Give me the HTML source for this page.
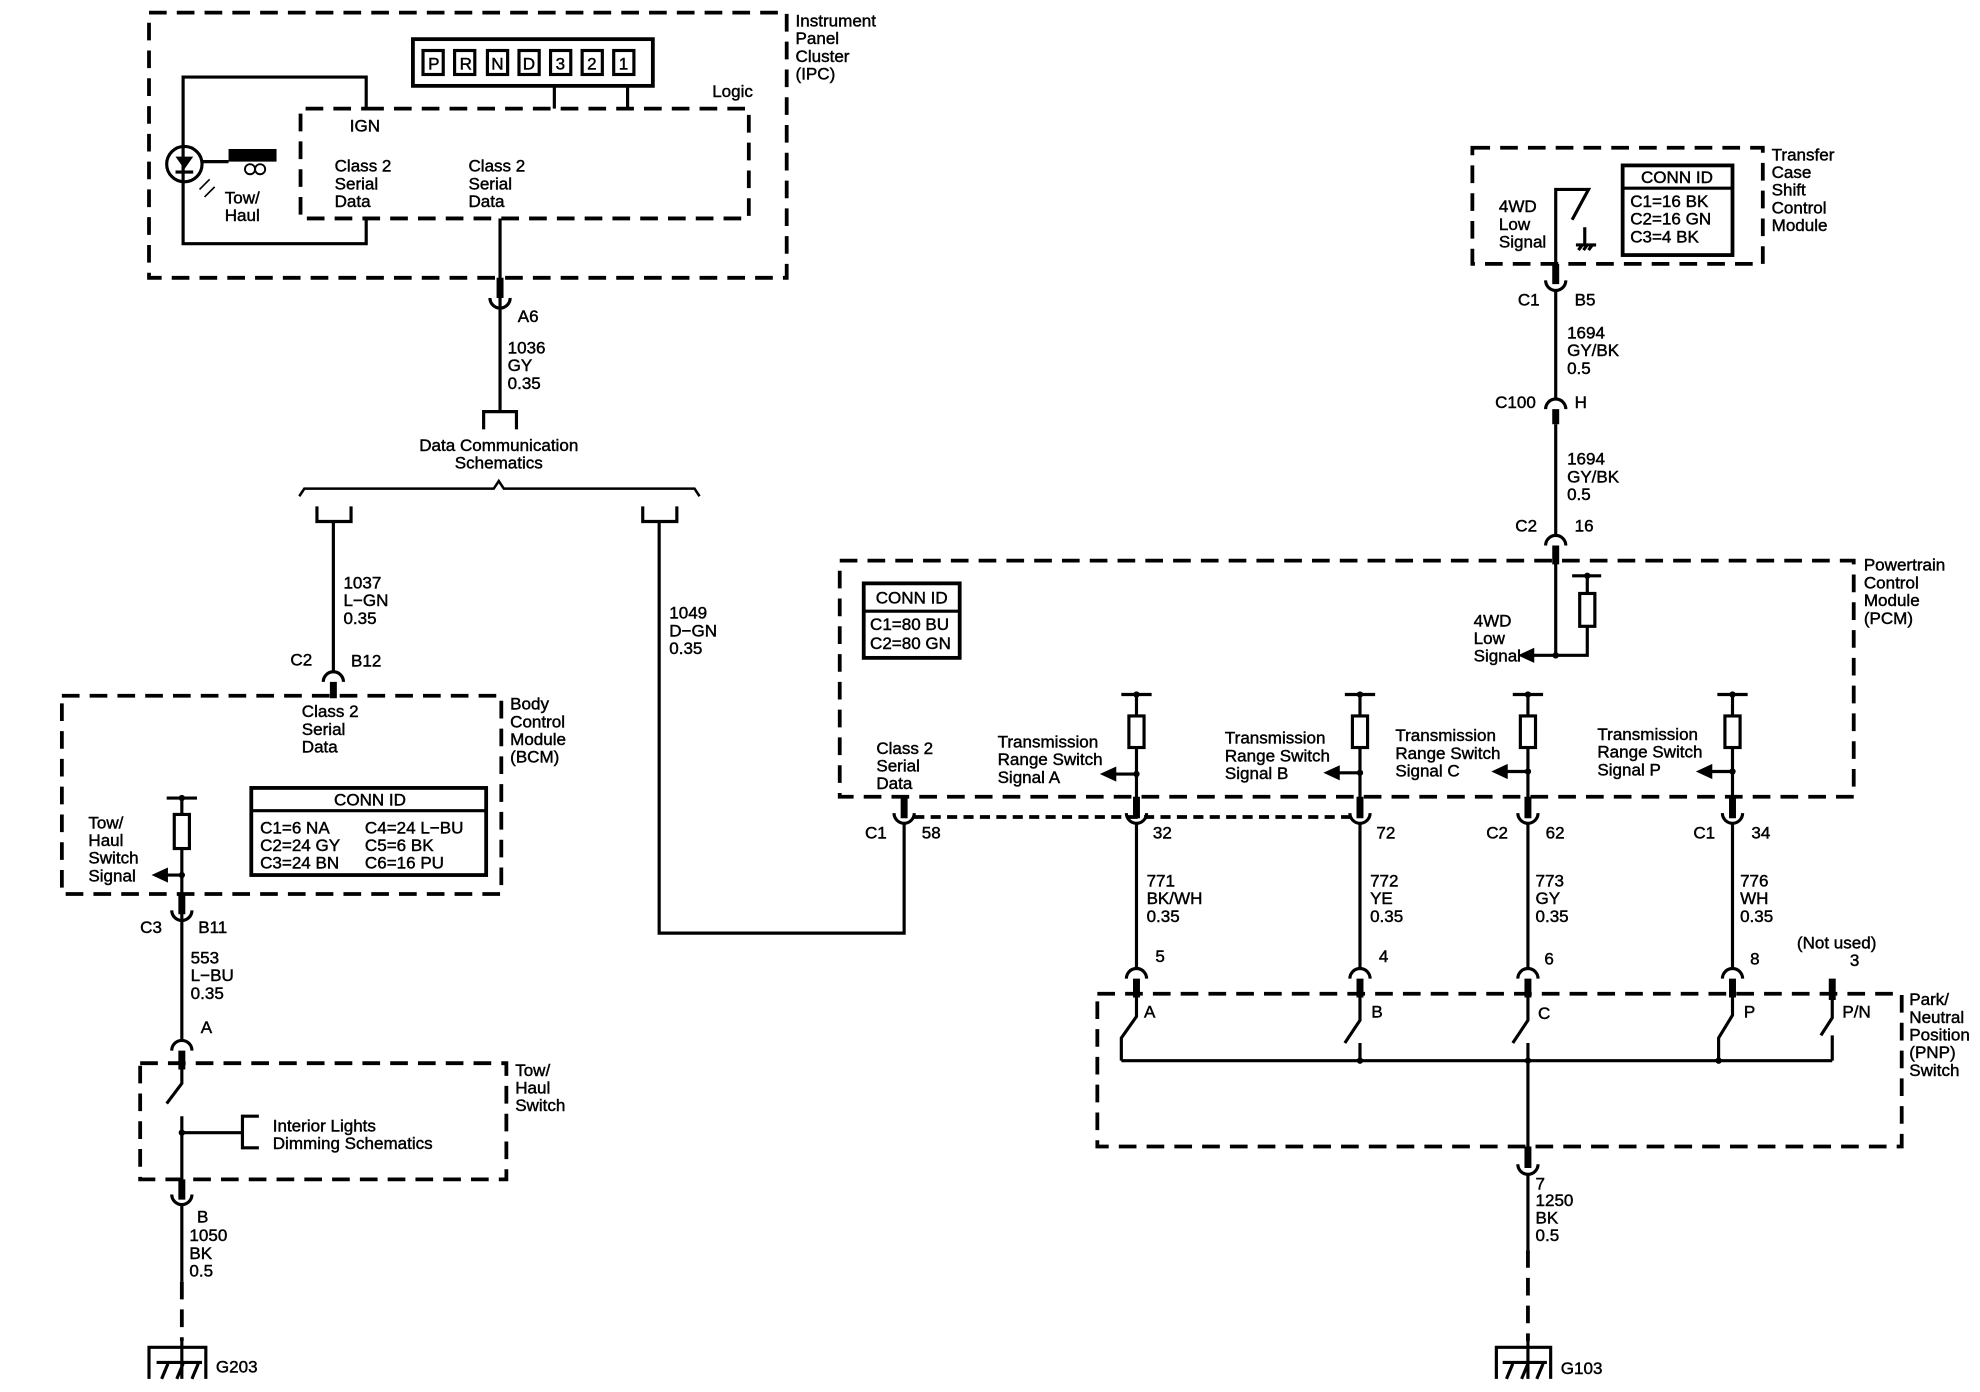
<!DOCTYPE html>
<html><head><meta charset="utf-8"><style>
html,body{margin:0;padding:0;background:#fff;}
svg{display:block;}
text{font-family:"Liberation Sans",Arial,sans-serif;font-size:13.5px;fill:#000;stroke:#000;stroke-width:0.35px;}
</style></head><body>
<svg width="1980" height="1392" viewBox="0 0 1568 1102.4" preserveAspectRatio="none" xmlns="http://www.w3.org/2000/svg">
<g fill="none" stroke="#000" stroke-width="3" stroke-dasharray="14 8">
<rect x="118" y="10" width="505" height="210"/>
<path d="M290 86 H593 V173 H238 V86 H290"/>
<rect x="49" y="551" width="348" height="157"/>
<rect x="111" y="842" width="290" height="92"/>
<rect x="1166" y="117" width="230" height="92"/>
<rect x="665" y="444" width="803" height="187"/>
<rect x="869" y="787" width="637" height="121"/>
<path d="M144 1015 V1062"/>
<path d="M1210 990 V1062"/>
</g>
<path d="M724 647 H1070" stroke="#000" stroke-width="3" stroke-dasharray="8 5" fill="none"/>
<g fill="none" stroke="#000" stroke-width="2.5">
<rect x="327" y="31" width="190" height="37" stroke-width="3"/>
<rect x="335" y="40" width="16" height="19"/><rect x="360" y="40" width="16" height="19"/>
<rect x="386" y="40" width="16" height="19"/><rect x="411" y="40" width="16" height="19"/>
<rect x="436" y="40" width="16" height="19"/><rect x="461" y="40" width="16" height="19"/>
<rect x="486" y="40" width="16" height="19"/>
<path d="M439 68 V86 M497 68 V86"/>
<path d="M290 86 V61 H145 V193 H290 V173"/>
<circle cx="146" cy="130" r="14"/>
<path d="M160 128 H181"/>
<circle cx="198" cy="134" r="4" stroke-width="1.5"/><circle cx="206" cy="134" r="4" stroke-width="1.5"/>
<path d="M158 150 L166 142 M162 156 L170 148" stroke-width="1.3"/>
<path d="M396 173 V243 M396 243 V326 M383 340 V326 H409 V340"/>
<path d="M237 393 L241 387 H391 L395 381 L399 387 H550 L554 393" stroke-width="2"/>
<path d="M251 401 V413 H278 V401 M509 401 V413 H536 V401"/>
<path d="M264 413 V533 M522 413 V739 H716 V652"/>
<rect x="199" y="624" width="186" height="69" stroke-width="3"/>
<path d="M199 642 H385"/>
<path d="M132 632 H156 M144 632 V645 M144 672 V708 M144 693 H130"/>
<rect x="138" y="645" width="12" height="27"/>
<path d="M144 720 V823 M144 845 V858 L132 874 M144 884 V946 M144 897 H192 M205 884 H192 V909 H205"/>
<path d="M144 953 V1015"/>
<path d="M144 1060 V1092 M118 1092 V1067 H163 V1092 M124 1079 H160 M128 1092 L133 1080 M140 1092 L145 1080 M152 1092 L157 1080"/>
<rect x="1285" y="131" width="87" height="71" stroke-width="3"/>
<path d="M1285 149 H1372"/>
<path d="M1232 209 V150 H1258 L1245 174 M1255 180 V194 M1248 194 H1264 M1250 198 L1253 194 M1254 198 L1257 194 M1258 198 L1261 194"/>
<path d="M1232 229 V316 M1232 336 V424"/>
<rect x="684" y="462" width="76" height="59" stroke-width="3"/>
<path d="M684 484 H760"/>
<path d="M1232 445 V519 H1257 V496 M1257 470 V456 M1245 456 H1268 M1232 519 H1212"/>
<rect x="1251" y="470" width="12" height="26"/>
<path d="M888 550 H912 M900 550 V567 M900 592 V643 M900 613 H880"/>
<rect x="894" y="567" width="12" height="25"/>
<path d="M1065 550 H1089 M1077 550 V567 M1077 592 V643 M1077 612 H1057"/>
<rect x="1071" y="567" width="12" height="25"/>
<path d="M1198 550 H1222 M1210 550 V567 M1210 592 V643 M1210 611 H1190"/>
<rect x="1204" y="567" width="12" height="25"/>
<path d="M1360 550 H1384 M1372 550 V567 M1372 592 V643 M1372 611 H1352"/>
<rect x="1366" y="567" width="12" height="25"/>
<path d="M900 652 V768 M1077 652 V768 M1210 652 V768 M1372 652 V768"/>
<path d="M900 788 V805 L888 822 V840 M1077 788 V808 L1065 826 M1077 826 V840 M1210 788 V808 L1198 826 M1210 826 V840 M1372 788 V804 L1361 822 V840 M1451 790 V806 L1442 820 M1451 820 V840 M888 840 H1451"/>
<path d="M1210 840 V908 M1210 930 V990"/>
<path d="M1210 1060 V1092 M1185 1092 V1067 H1228 V1092 M1190 1079 H1225 M1193 1092 L1198 1080 M1205 1092 L1210 1080 M1217 1092 L1222 1080"/>
</g>
<g stroke="#000" stroke-width="5.5" fill="none">
<path d="M396 220 V236 M264 540 V553 M144 708 V724 M144 832 V847 M144 934 V950 M1232 209 V225 M1232 324 V336 M1232 432 V447 M716 631 V648 M900 631 V648 M1077 631 V648 M1210 631 V648 M1372 631 V648 M900 775 V790 M1077 775 V790 M1210 775 V790 M1372 775 V790 M1451 775 V792 M1210 908 V925"/>
</g>
<g stroke="#000" stroke-width="2.5" fill="none">
<path d="M388 236 a8 8 0 0 0 16 0"/>
<path d="M256 540 a8 8 0 0 1 16 0"/>
<path d="M136 721 a8 8 0 0 0 16 0"/>
<path d="M136 832 a8 8 0 0 1 16 0"/>
<path d="M136 946 a8 8 0 0 0 16 0"/>
<path d="M1224 222 a8 8 0 0 0 16 0"/>
<path d="M1224 324 a8 8 0 0 1 16 0"/>
<path d="M1224 432 a8 8 0 0 1 16 0"/>
<path d="M708 644 a8 8 0 0 0 16 0"/>
<path d="M892 644 a8 8 0 0 0 16 0"/>
<path d="M1069 644 a8 8 0 0 0 16 0"/>
<path d="M1202 644 a8 8 0 0 0 16 0"/>
<path d="M1364 644 a8 8 0 0 0 16 0"/>
<path d="M892 775 a8 8 0 0 1 16 0"/>
<path d="M1069 775 a8 8 0 0 1 16 0"/>
<path d="M1202 775 a8 8 0 0 1 16 0"/>
<path d="M1364 775 a8 8 0 0 1 16 0"/>
<path d="M1202 922 a8 8 0 0 0 16 0"/>
</g>
<g fill="#000">
<rect x="181" y="118" width="38" height="10"/>
<path d="M139 124 H153 L146 134 Z"/><rect x="139" y="135" width="14" height="2.5"/>
<circle cx="144" cy="632" r="2.5"/><circle cx="144" cy="693" r="2.5"/><circle cx="144" cy="897" r="2.5"/>
<path d="M120 693 L133 687 V699 Z"/>
<circle cx="1232" cy="519" r="2.5"/><circle cx="1257" cy="456" r="2.5"/>
<path d="M1202 519 L1215 513 V525 Z"/>
<circle cx="900" cy="550" r="2.5"/><circle cx="900" cy="613" r="2.5"/><path d="M871 613 L884 607 V619 Z"/>
<circle cx="1077" cy="550" r="2.5"/><circle cx="1077" cy="612" r="2.5"/><path d="M1048 612 L1061 606 V618 Z"/>
<circle cx="1210" cy="550" r="2.5"/><circle cx="1210" cy="611" r="2.5"/><path d="M1181 611 L1194 605 V617 Z"/>
<circle cx="1372" cy="550" r="2.5"/><circle cx="1372" cy="611" r="2.5"/><path d="M1343 611 L1356 605 V617 Z"/>
<circle cx="1077" cy="840" r="2.5"/><circle cx="1210" cy="840" r="2.5"/><circle cx="1361" cy="840" r="2.5"/>
</g>
<g>
<text x="630" y="21">Instrument</text><text x="630" y="35">Panel</text><text x="630" y="49">Cluster</text><text x="630" y="63">(IPC)</text>
<text x="339" y="55">P</text><text x="364" y="55">R</text><text x="389" y="55">N</text><text x="414" y="55">D</text><text x="440" y="55">3</text><text x="465" y="55">2</text><text x="490" y="55">1</text>
<text x="564" y="77">Logic</text>
<text x="277" y="104">IGN</text>
<text x="265" y="136">Class 2</text><text x="265" y="150">Serial</text><text x="265" y="164">Data</text>
<text x="371" y="136">Class 2</text><text x="371" y="150">Serial</text><text x="371" y="164">Data</text>
<text x="178" y="161">Tow/</text><text x="178" y="175">Haul</text>
<text x="410" y="255">A6</text>
<text x="402" y="280">1036</text><text x="402" y="294">GY</text><text x="402" y="308">0.35</text>
<text x="395" y="357" text-anchor="middle">Data Communication</text><text x="395" y="371" text-anchor="middle">Schematics</text>
<text x="272" y="466">1037</text><text x="272" y="480">L−GN</text><text x="272" y="494">0.35</text>
<text x="530" y="490">1049</text><text x="530" y="504">D−GN</text><text x="530" y="518">0.35</text>
<text x="230" y="527">C2</text><text x="278" y="528">B12</text>
<text x="239" y="568">Class 2</text><text x="239" y="582">Serial</text><text x="239" y="596">Data</text>
<text x="404" y="562">Body</text><text x="404" y="576">Control</text><text x="404" y="590">Module</text><text x="404" y="604">(BCM)</text>
<text x="293" y="638" text-anchor="middle">CONN ID</text>
<text x="206" y="660">C1=6 NA</text><text x="206" y="674">C2=24 GY</text><text x="206" y="688">C3=24 BN</text>
<text x="289" y="660">C4=24 L−BU</text><text x="289" y="674">C5=6 BK</text><text x="289" y="688">C6=16 PU</text>
<text x="70" y="656">Tow/</text><text x="70" y="670">Haul</text><text x="70" y="684">Switch</text><text x="70" y="698">Signal</text>
<text x="111" y="739">C3</text><text x="157" y="739">B11</text>
<text x="151" y="763">553</text><text x="151" y="777">L−BU</text><text x="151" y="791">0.35</text>
<text x="159" y="818">A</text>
<text x="408" y="852">Tow/</text><text x="408" y="866">Haul</text><text x="408" y="880">Switch</text>
<text x="216" y="896">Interior Lights</text><text x="216" y="910">Dimming Schematics</text>
<text x="156" y="968">B</text>
<text x="150" y="983">1050</text><text x="150" y="997">BK</text><text x="150" y="1011">0.5</text>
<text x="171" y="1087">G203</text>
<text x="1403" y="127">Transfer</text><text x="1403" y="141">Case</text><text x="1403" y="155">Shift</text><text x="1403" y="169">Control</text><text x="1403" y="183">Module</text>
<text x="1187" y="168">4WD</text><text x="1187" y="182">Low</text><text x="1187" y="196">Signal</text>
<text x="1328" y="145" text-anchor="middle">CONN ID</text>
<text x="1291" y="164">C1=16 BK</text><text x="1291" y="178">C2=16 GN</text><text x="1291" y="192">C3=4 BK</text>
<text x="1202" y="242">C1</text><text x="1247" y="242">B5</text>
<text x="1241" y="268">1694</text><text x="1241" y="282">GY/BK</text><text x="1241" y="296">0.5</text>
<text x="1184" y="323">C100</text><text x="1247" y="323">H</text>
<text x="1241" y="368">1694</text><text x="1241" y="382">GY/BK</text><text x="1241" y="396">0.5</text>
<text x="1200" y="421">C2</text><text x="1247" y="421">16</text>
<text x="1476" y="452">Powertrain</text><text x="1476" y="466">Control</text><text x="1476" y="480">Module</text><text x="1476" y="494">(PCM)</text>
<text x="722" y="478" text-anchor="middle">CONN ID</text>
<text x="689" y="499">C1=80 BU</text><text x="689" y="514">C2=80 GN</text>
<text x="1167" y="496">4WD</text><text x="1167" y="510">Low</text><text x="1167" y="524">Signal</text>
<text x="694" y="597">Class 2</text><text x="694" y="611">Serial</text><text x="694" y="625">Data</text>
<text x="790" y="592">Transmission</text><text x="790" y="606">Range Switch</text><text x="790" y="620">Signal A</text>
<text x="970" y="589">Transmission</text><text x="970" y="603">Range Switch</text><text x="970" y="617">Signal B</text>
<text x="1105" y="587">Transmission</text><text x="1105" y="601">Range Switch</text><text x="1105" y="615">Signal C</text>
<text x="1265" y="586">Transmission</text><text x="1265" y="600">Range Switch</text><text x="1265" y="614">Signal P</text>
<text x="685" y="664">C1</text><text x="730" y="664">58</text><text x="913" y="664">32</text><text x="1090" y="664">72</text>
<text x="1177" y="664">C2</text><text x="1224" y="664">62</text><text x="1341" y="664">C1</text><text x="1387" y="664">34</text>
<text x="908" y="702">771</text><text x="908" y="716">BK/WH</text><text x="908" y="730">0.35</text>
<text x="1085" y="702">772</text><text x="1085" y="716">YE</text><text x="1085" y="730">0.35</text>
<text x="1216" y="702">773</text><text x="1216" y="716">GY</text><text x="1216" y="730">0.35</text>
<text x="1378" y="702">776</text><text x="1378" y="716">WH</text><text x="1378" y="730">0.35</text>
<text x="915" y="762">5</text><text x="1092" y="762">4</text><text x="1223" y="764">6</text><text x="1386" y="764">8</text>
<text x="1423" y="751">(Not used)</text><text x="1465" y="765">3</text>
<text x="906" y="806">A</text><text x="1086" y="806">B</text><text x="1218" y="807">C</text><text x="1381" y="806">P</text><text x="1459" y="806">P/N</text>
<text x="1512" y="796">Park/</text><text x="1512" y="810">Neutral</text><text x="1512" y="824">Position</text><text x="1512" y="838">(PNP)</text><text x="1512" y="852">Switch</text>
<text x="1216" y="942">7</text><text x="1216" y="955">1250</text><text x="1216" y="969">BK</text><text x="1216" y="983">0.5</text>
<text x="1236" y="1088">G103</text>
</g>
</svg>
</body></html>
